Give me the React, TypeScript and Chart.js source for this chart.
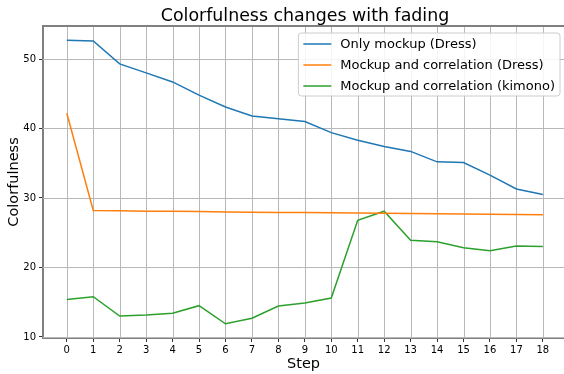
import React, { useEffect, useRef } from "react";
import { Chart, registerables } from "chart.js";

Chart.register(...registerables);

const steps = [0, 1, 2, 3, 4, 5, 6, 7, 8, 9, 10, 11, 12, 13, 14, 15, 16, 17, 18];
const yTicks = [10, 20, 30, 40, 50];
const onlyMockupDress = [52.7, 52.6, 49.3, 48.0, 46.7, 44.8, 43.1, 41.8, 41.4, 41.0, 39.4, 38.3, 37.4, 36.7, 35.2, 35.1, 33.3, 31.3, 30.5];
const mockupCorrDress = [42.2, 28.2, 28.15, 28.1, 28.08, 28.05, 28.0, 27.95, 27.92, 27.9, 27.88, 27.85, 27.82, 27.78, 27.72, 27.68, 27.65, 27.62, 27.6];
const mockupCorrKimono = [15.4, 15.8, 13.0, 13.15, 13.4, 14.5, 11.9, 12.7, 14.45, 14.9, 15.6, 26.8, 28.1, 23.9, 23.7, 22.85, 22.4, 23.1, 23.0];
const seriesLabels = ["Only mockup (Dress)", "Mockup and correlation (Dress)", "Mockup and correlation (kimono)"];
const seriesColors = ["#1f77b4", "#ff7f0e", "#2ca02c"];
const chartTitle = "Colorfulness changes with fading";

const FONT = "'DejaVu Sans', sans-serif";

const gridPlugin = {
  id: "gridPlugin",
  beforeDatasetsDraw(chart: any) {
    const { ctx, chartArea, scales } = chart;
    ctx.save();
    ctx.strokeStyle = "#b8b8b8";
    ctx.lineWidth = 1;
    steps.forEach((v) => {
      const x = Math.round(scales.x.getPixelForValue(v)) + 0.5;
      ctx.beginPath();
      ctx.moveTo(x, chartArea.top);
      ctx.lineTo(x, chartArea.bottom);
      ctx.stroke();
    });
    yTicks.forEach((v) => {
      const y = Math.round(scales.y.getPixelForValue(v)) + 0.5;
      ctx.beginPath();
      ctx.moveTo(chartArea.left, y);
      ctx.lineTo(chartArea.right, y);
      ctx.stroke();
    });
    ctx.restore();
  },
};

const boxLegend = {
  id: "boxLegend",
  afterDraw(chart: any) {
    const { ctx, chartArea } = chart;
    ctx.save();
    const axesRight = chartArea.right + 3;
    ctx.font = `17.4px ${FONT}`;
    ctx.fillStyle = "#000";
    ctx.textAlign = "center";
    ctx.textBaseline = "alphabetic";
    ctx.fillText(chartTitle, (chartArea.left + axesRight) / 2, 21);

    const fs = 13;
    ctx.font = `${fs}px ${FONT}`;
    const datasets = chart.data.datasets;
    let maxW = 0;
    datasets.forEach((d: any) => {
      maxW = Math.max(maxW, ctx.measureText(d.label).width);
    });
    const pad = 5;
    const handle = 28;
    const gap = 9;
    const rowH = 21;
    const w = pad + handle + gap + maxW + pad;
    const h = datasets.length * rowH;
    const right = axesRight - 7;
    const top = chartArea.top + 7;
    const left = right - w;
    const r = 3;
    ctx.beginPath();
    ctx.moveTo(left + r, top);
    ctx.lineTo(right - r, top);
    ctx.quadraticCurveTo(right, top, right, top + r);
    ctx.lineTo(right, top + h - r);
    ctx.quadraticCurveTo(right, top + h, right - r, top + h);
    ctx.lineTo(left + r, top + h);
    ctx.quadraticCurveTo(left, top + h, left, top + h - r);
    ctx.lineTo(left, top + r);
    ctx.quadraticCurveTo(left, top, left + r, top);
    ctx.closePath();
    ctx.fillStyle = "rgba(255,255,255,0.85)";
    ctx.fill();
    ctx.strokeStyle = "#cccccc";
    ctx.lineWidth = 1;
    ctx.stroke();
    datasets.forEach((d: any, i: number) => {
      const y = top + 11 + i * rowH;
      ctx.beginPath();
      ctx.moveTo(left + pad, y);
      ctx.lineTo(left + pad + handle, y);
      ctx.strokeStyle = d.borderColor;
      ctx.lineWidth = 1.5;
      ctx.stroke();
      ctx.fillStyle = "#000";
      ctx.textBaseline = "middle";
      ctx.textAlign = "left";
      ctx.fillText(d.label, left + pad + handle + gap, y + 1);
    });
    ctx.beginPath();
    ctx.moveTo(chartArea.left, chartArea.top);
    ctx.lineTo(axesRight, chartArea.top);
    ctx.strokeStyle = "#808080";
    ctx.lineWidth = 2;
    ctx.stroke();
    ctx.restore();
  },
};

export default function App() {
  const ref = useRef<HTMLCanvasElement | null>(null);
  useEffect(() => {
    document.body.style.margin = "0";
    document.body.style.overflow = "hidden";
    const canvas = ref.current!;
    const series = [onlyMockupDress, mockupCorrDress, mockupCorrKimono];
    const chart = new Chart(canvas, {
      type: "line",
      data: {
        datasets: series.map((vals, i) => ({
          label: seriesLabels[i],
          data: steps.map((s, j) => ({ x: s, y: vals[j] })),
          borderColor: seriesColors[i],
          backgroundColor: seriesColors[i],
          borderWidth: 1.5,
          pointRadius: 0,
          tension: 0,
          fill: false,
        })),
      },
      options: {
        animation: false,
        responsive: false,
        devicePixelRatio: 1,
        layout: { padding: { left: 0, right: 0, top: 26, bottom: 0 } },
        plugins: {
          legend: { display: false },
          tooltip: { enabled: false },
          title: { display: false },
        },
        scales: {
          x: {
            type: "linear",
            min: -0.9,
            max: 18.8,
            afterBuildTicks: (scale: any) => {
              scale.ticks = steps.map((v) => ({ value: v }));
            },
            afterFit: (scale: any) => {
              scale.height = 36;
            },
            ticks: {
              autoSkip: false,
              maxRotation: 0,
              color: "#000",
              font: { family: FONT, size: 10 },
              padding: 2,
            },
            grid: {
              drawOnChartArea: false,
              color: "#333",
              tickColor: "#333",
              tickLength: 4,
            },
            border: { color: "#808080", width: 2 },
            title: {
              display: true,
              text: "Step",
              color: "#000",
              font: { family: FONT, size: 14.5 },
              padding: { top: 0, bottom: 1 },
            },
          },
          y: {
            type: "linear",
            min: 9.85,
            max: 54.75,
            afterBuildTicks: (scale: any) => {
              scale.ticks = yTicks.map((v) => ({ value: v }));
            },
            afterFit: (scale: any) => {
              scale.width = 43;
            },
            ticks: {
              color: "#000",
              font: { family: FONT, size: 10 },
              padding: 3,
            },
            grid: {
              drawOnChartArea: false,
              color: "#333",
              tickColor: "#333",
              tickLength: 4,
            },
            border: { color: "#808080", width: 2 },
            title: {
              display: true,
              text: "Colorfulness",
              color: "#000",
              font: { family: FONT, size: 14.5 },
              padding: { top: 6, bottom: 2 },
            },
          },
        },
      },
      plugins: [gridPlugin, boxLegend],
    } as any);
    return () => chart.destroy();
  }, []);
  return <canvas ref={ref} width={564} height={374} style={{ display: "block" }} />;
}
